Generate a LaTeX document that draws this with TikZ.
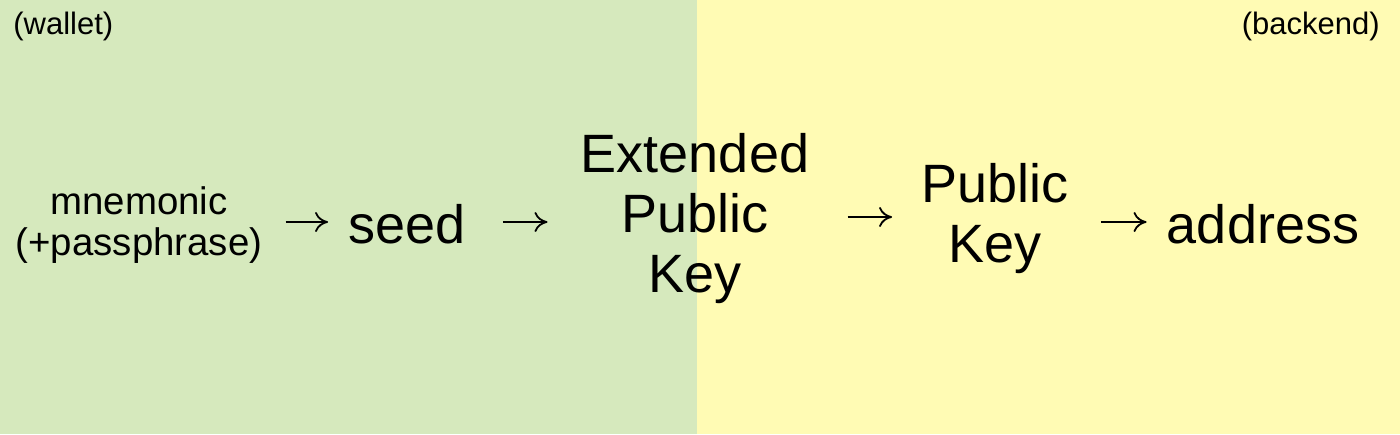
\documentclass[tikz,border=0pt]{standalone}
\usepackage{fontspec}
\setmainfont{Liberation Sans}
\usetikzlibrary{arrows.meta}
\definecolor{walletgreen}{RGB}{214,233,189}
\definecolor{backendyellow}{RGB}{255,251,180}
\begin{document}
\begin{tikzpicture}[x=0.5pt,y=-0.5pt,
		big/.style={inner sep=0pt,align=center,font=\fontsize{27}{30}\selectfont},
		mid/.style={inner sep=0pt,align=center,font=\fontsize{19.2}{20.5}\selectfont},
		small/.style={inner sep=0pt,font=\fontsize{15.5}{18}\selectfont},
		arr/.style={line width=0.9pt,-{Computer Modern Rightarrow[length=6.5pt,width=10pt]}}]
	
	\useasboundingbox (0,0) rectangle (1400,434);
	\fill[walletgreen] (0,0) rectangle (697,434);
	\fill[backendyellow] (697,0) rectangle (1400,434);
	
	\node[small,anchor=base west] (wallet) at (13,34) {(wallet)};
	\node[small,anchor=base east] (backend) at (1380,34) {(backend)};
	
	\node[mid,anchor=base] (mnem) at (139,255) {mnemonic\\(+passphrase)};
	\node[big,anchor=base] (seed) at (407,243) {seed};
	\node[big,anchor=base] (xpub) at (695,292) {Extended\\Public\\Key};
	\node[big,anchor=base] (pub) at (995,262) {Public\\Key};
	\node[big,anchor=base] (addr) at (1263,243) {address};
	
	\coordinate (row) at (0,222);
	\coordinate (rowup) at (0,217);
	
	\draw[arr,shorten <=11.5pt,shorten >=10pt] (mnem.east |- row) -- (seed.west |- row);
	\draw[arr,shorten <=18.5pt,shorten >=16.5pt] (seed.east |- row) -- (xpub.west |- row);
	\draw[arr,shorten <=19pt,shorten >=14.5pt] (xpub.east |- rowup) -- (pub.west |- rowup);
	\draw[arr,shorten <=16pt,shorten >=10pt] (pub.east |- row) -- (addr.west |- row);
\end{tikzpicture}
\end{document}
